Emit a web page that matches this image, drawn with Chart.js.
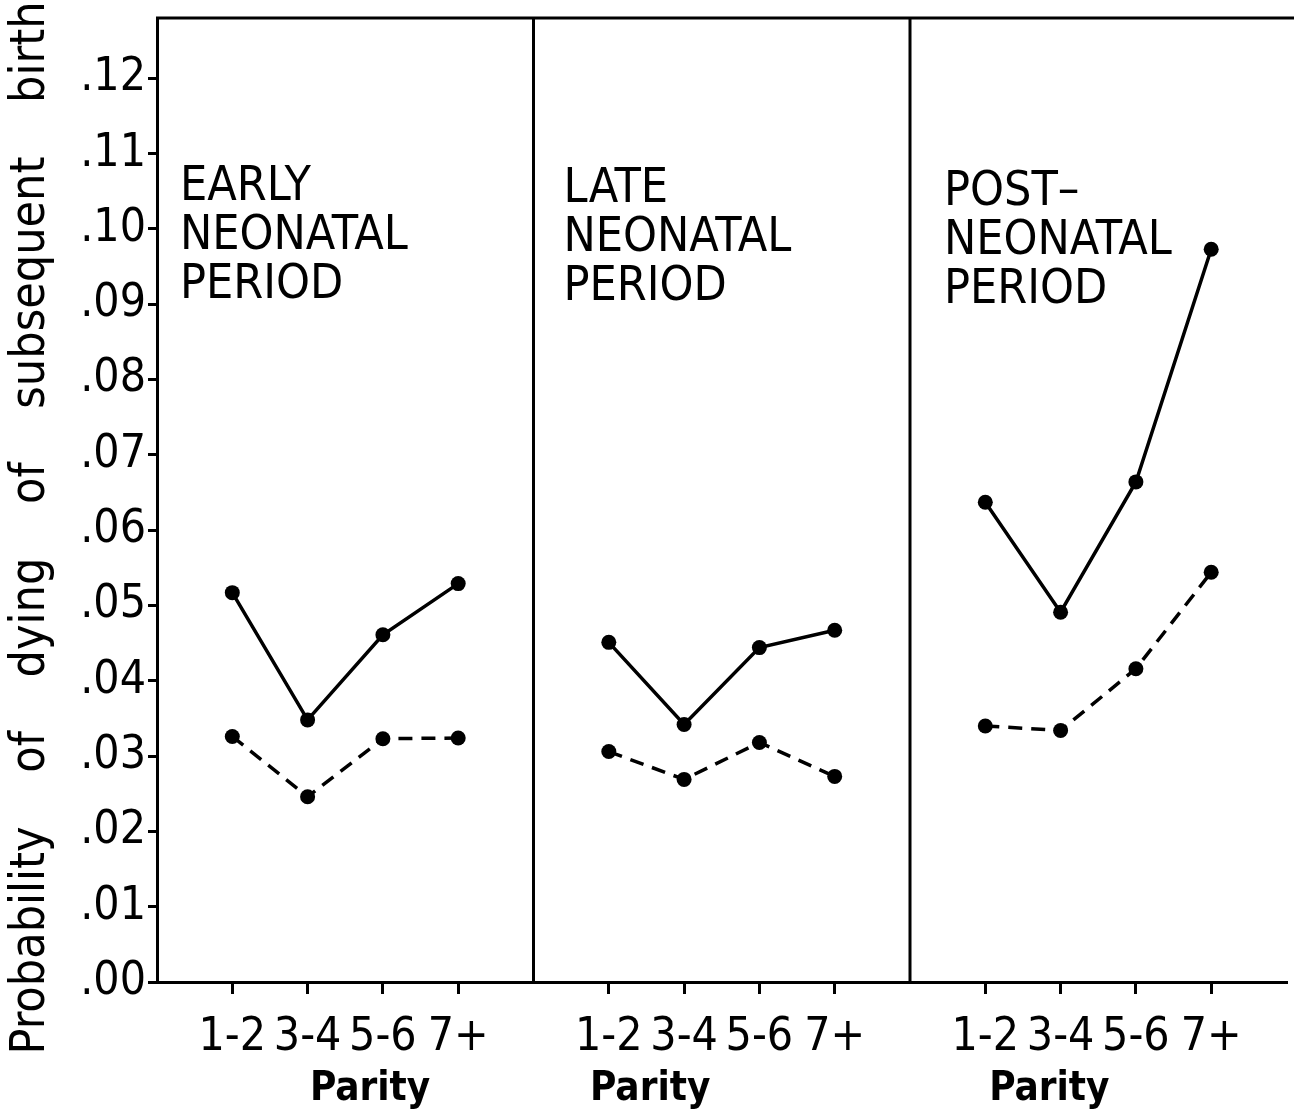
<!DOCTYPE html>
<html>
<head>
<meta charset="utf-8">
<script src="https://cdn.jsdelivr.net/npm/chart.js@4.4.1/dist/chart.umd.min.js"></script>
<style>
  html, body { margin: 0; padding: 0; background: #fff; }
  #wrap { width: 1294px; height: 1112px; position: relative; }
</style>
</head>
<body>
<div id="wrap"><canvas id="c"></canvas></div>
<script>
// ---- data ----
const parityLabels = ['1-2', '3-4', '5-6', '7+'];
const periodNames = [
  ['EARLY', 'NEONATAL', 'PERIOD'],
  ['LATE', 'NEONATAL', 'PERIOD'],
  ['POST\u2013', 'NEONATAL', 'PERIOD']
];
const earlySolid  = [0.0517, 0.0348, 0.0461, 0.0529];
const earlyDashed = [0.0326, 0.0246, 0.0323, 0.0324];
const lateSolid   = [0.0451, 0.0342, 0.0444, 0.0467];
const lateDashed  = [0.0306, 0.0269, 0.0318, 0.0273];
const postSolid   = [0.0637, 0.0491, 0.0664, 0.0973];
const postDashed  = [0.0340, 0.0334, 0.0416, 0.0544];
const yTicks = [0, 0.01, 0.02, 0.03, 0.04, 0.05, 0.06, 0.07, 0.08, 0.09, 0.10, 0.11, 0.12];
const yMax = 0.128;
const yTitle = 'Probability of dying of subsequent birth';
const xTitle = 'Parity';

// build category axis: empty slot at each panel boundary
const xLabels = ['', ...parityLabels, '', ...parityLabels, '', ...parityLabels, ''];
const join = (a, b, c) => [null, ...a, null, ...b, null, ...c, null];
const solidData = join(earlySolid, lateSolid, postSolid);
const dashedData = join(earlyDashed, lateDashed, postDashed);

const NARROW = "'Liberation Sans Narrow', 'DejaVu Sans Condensed', 'Arial Narrow', 'Liberation Sans', sans-serif";

const decor = {
  id: 'decor',
  afterDraw(chart) {
    const ctx = chart.ctx;
    const a = chart.chartArea;
    const xs = chart.scales.x;
    ctx.save();
    ctx.strokeStyle = '#000';
    ctx.lineWidth = 3;
    // top frame line
    ctx.beginPath();
    ctx.moveTo(a.left - 1, a.top);
    ctx.lineTo(chart.width, a.top);
    ctx.stroke();
    // panel dividers
    [5, 10].forEach(i => {
      const px = xs.getPixelForValue(i);
      ctx.beginPath();
      ctx.moveTo(px, a.top);
      ctx.lineTo(px, a.bottom);
      ctx.stroke();
    });
    // panel names
    ctx.fillStyle = '#000';
    ctx.font = "48px " + NARROW;
    ctx.textBaseline = 'alphabetic';
    ctx.textAlign = 'left';
    const starts = [0, 5, 10];
    const offs = [23, 30, 34];
    const baseY = [200, 202, 205];
    periodNames.forEach((lines, p) => {
      const x0 = xs.getPixelForValue(starts[p]) + offs[p];
      lines.forEach((t, k) => ctx.fillText(t, x0, baseY[p] + k * 49));
    });
    // x titles (one per panel)
    ctx.font = "bold 40px " + NARROW;
    ctx.textAlign = 'center';
    [2.83, 6.55, 11.85].forEach(v => {
      ctx.fillText(xTitle, xs.getPixelForValue(v), 1100);
    });
    // y title
    ctx.translate(44, 528);
    ctx.rotate(-Math.PI / 2);
    ctx.font = "48px " + NARROW;
    ctx.textAlign = 'center';
    try { ctx.wordSpacing = '40px'; } catch (e) {}
    ctx.fillText(yTitle, 0, 0);
    ctx.restore();
  }
};

new Chart(document.getElementById('c'), {
  type: 'line',
  data: {
    labels: xLabels,
    datasets: [
      {
        data: solidData,
        borderColor: '#000',
        backgroundColor: '#000',
        borderWidth: 3.5,
        pointRadius: 7.5,
        pointBackgroundColor: '#000',
        pointBorderWidth: 0,
        spanGaps: false,
        tension: 0
      },
      {
        data: dashedData,
        borderColor: '#000',
        backgroundColor: '#000',
        borderWidth: 3.5,
        borderDash: [14, 9],
        pointRadius: 7.5,
        pointBackgroundColor: '#000',
        pointBorderWidth: 0,
        spanGaps: false,
        tension: 0
      }
    ]
  },
  options: {
    responsive: true,
    maintainAspectRatio: false,
    devicePixelRatio: 1,
    animation: false,
    layout: { padding: { top: 18, right: 0, left: 0, bottom: 0 } },
    plugins: { legend: { display: false }, tooltip: { enabled: false } },
    scales: {
      x: {
        type: 'category',
        offset: false,
        grid: {
          drawOnChartArea: false,
          drawTicks: true,
          tickLength: 12,
          lineWidth: 3,
          color: c => (xLabels[c.index] ? '#000' : 'rgba(0,0,0,0)')
        },
        border: { display: true, color: '#000', width: 3 },
        ticks: {
          autoSkip: false,
          maxRotation: 0,
          minRotation: 0,
          padding: 16,
          color: '#000',
          font: { family: NARROW, size: 46 }
        },
        afterFit: s => { s.height = 130; s.paddingLeft = 0; s.paddingRight = 0; }
      },
      y: {
        min: 0,
        max: yMax,
        afterBuildTicks: s => { s.ticks = yTicks.map(v => ({ value: v })); },
        grid: {
          drawOnChartArea: false,
          drawTicks: true,
          tickLength: 9,
          lineWidth: 3,
          color: '#000'
        },
        border: { display: true, color: '#000', width: 3 },
        ticks: {
          padding: 2,
          color: '#000',
          font: { family: NARROW, size: 46 },
          callback: v => Number(v).toFixed(2).replace(/^0/, '')
        },
        afterFit: s => { s.width = 157; s.paddingTop = 0; s.paddingBottom = 0; }
      }
    }
  },
  plugins: [decor]
});
</script>
</body>
</html>
